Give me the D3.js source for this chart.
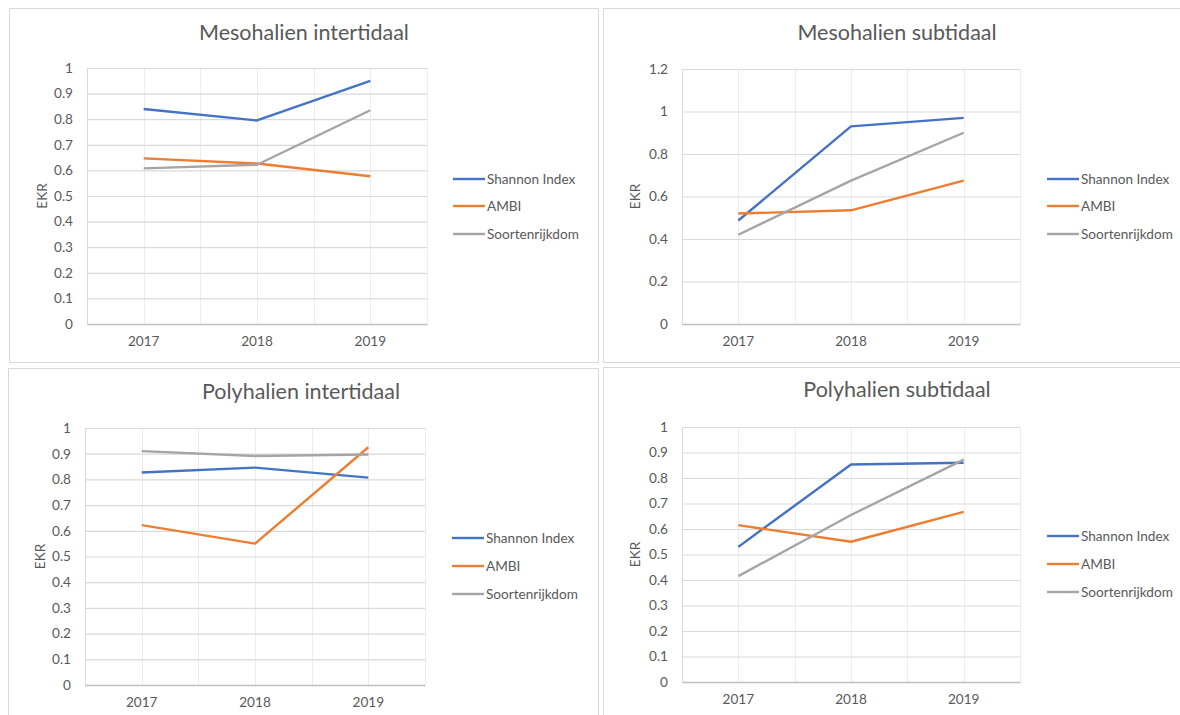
<!DOCTYPE html>
<html>
<head>
<meta charset="utf-8">
<script src="https://cdn.jsdelivr.net/npm/d3@7"></script>
<style>
  html, body { margin: 0; padding: 0; background: #fff; }
  svg { display: block; font-family: Lato, "Open Sans", sans-serif; }
</style>
</head>
<body>
<svg id="chart" width="1180" height="715"></svg>
<script>
// Years on the x axis and the three indicators plotted in each panel
const years = ["2017", "2018", "2019"];
const seriesNames = ["Shannon Index", "AMBI", "Soortenrijkdom"];
const seriesColors = ["#4472C4", "#ED7D31", "#A5A5A5"];

// EKR values per panel, one row per indicator (Shannon, AMBI, Soortenrijkdom)
const mesoIntertidaal = [
  [0.84, 0.795, 0.95],
  [0.647, 0.627, 0.577],
  [0.608, 0.622, 0.835]
];
const mesoSubtidaal = [
  [0.487, 0.93, 0.97],
  [0.52, 0.535, 0.675],
  [0.42, 0.675, 0.90]
];
const polyIntertidaal = [
  [0.827, 0.846, 0.807],
  [0.622, 0.55, 0.925],
  [0.91, 0.891, 0.897]
];
const polySubtidaal = [
  [0.53, 0.853, 0.86],
  [0.615, 0.55, 0.667],
  [0.415, 0.655, 0.872]
];

// Y-axis ticks per panel
const ticksTenths = [0, 0.1, 0.2, 0.3, 0.4, 0.5, 0.6, 0.7, 0.8, 0.9, 1];
const ticksFifths = [0, 0.2, 0.4, 0.6, 0.8, 1, 1.2];

const titles = ["Mesohalien intertidaal", "Mesohalien subtidaal", "Polyhalien intertidaal", "Polyhalien subtidaal"];
const yLabel = "EKR";

const panels = [
  { title: titles[0], values: mesoIntertidaal, ticks: ticksTenths, yMax: 1,
    box: [9, 8, 598, 362], plot: [87, 68, 427, 324], titleX: 304, titleY: 40,
    legendX: 453, legendY: [179, 206, 234], ekrX: 42 },
  { title: titles[1], values: mesoSubtidaal, ticks: ticksFifths, yMax: 1.2,
    box: [603, 8, 1186, 362], plot: [682, 69, 1020, 324], titleX: 897, titleY: 40,
    legendX: 1047, legendY: [179, 206, 234], ekrX: 635 },
  { title: titles[2], values: polyIntertidaal, ticks: ticksTenths, yMax: 1,
    box: [8, 368, 598, 720], plot: [85, 428, 425, 685], titleX: 301, titleY: 399,
    legendX: 452, legendY: [538, 566, 594], ekrX: 40 },
  { title: titles[3], values: polySubtidaal, ticks: ticksTenths, yMax: 1,
    box: [603, 367, 1186, 720], plot: [682, 427, 1020, 682], titleX: 897, titleY: 397,
    legendX: 1047, legendY: [536, 564, 592], ekrX: 635 }
];

const svg = d3.select("#chart");
const textColor = "#595959";
const labelSize = 13.6;

panels.forEach(p => {
  const g = svg.append("g");
  const [bx0, by0, bx1, by1] = p.box;
  const [px0, py0, px1, py1] = p.plot;

  // chart frame
  g.append("rect")
    .attr("x", bx0 + 0.5).attr("y", by0 + 0.5)
    .attr("width", bx1 - bx0).attr("height", by1 - by0)
    .attr("fill", "#fff").attr("stroke", "#d9d9d9").attr("stroke-width", 1);

  const x = d3.scaleBand().domain(years).range([px0, px1]).padding(0);
  const y = d3.scaleLinear().domain([0, p.yMax]).range([py1, py0]);

  // vertical gridlines at category centres and band edges
  const vLines = [];
  years.forEach(yr => {
    vLines.push(x(yr));
    vLines.push(x(yr) + x.bandwidth() / 2);
  });
  vLines.push(px1);
  g.append("g").selectAll("line").data(vLines).join("line")
    .attr("x1", d => Math.round(d) + 0.5).attr("x2", d => Math.round(d) + 0.5)
    .attr("y1", py0).attr("y2", py1)
    .attr("stroke", "#ececec").attr("stroke-width", 1);

  // horizontal gridlines + y tick labels
  const yAxis = d3.axisLeft(y).tickValues(p.ticks)
    .tickSize(-(px1 - px0)).tickPadding(14)
    .tickFormat(d => String(+d.toFixed(1)));
  const ya = g.append("g").attr("transform", `translate(${px0},0)`).call(yAxis);
  ya.select(".domain").remove();
  ya.selectAll(".tick line").attr("stroke", "#d9d9d9").attr("stroke-width", 1.2);
  ya.selectAll(".tick text").attr("fill", textColor).attr("font-size", labelSize)
    .attr("font-family", "Lato, 'Open Sans', sans-serif");

  // bottom axis line and year labels
  const xAxis = d3.axisBottom(x).tickSize(0).tickPadding(12);
  const xa = g.append("g").attr("transform", `translate(0,${py1})`).call(xAxis);
  xa.select(".domain").attr("stroke", "#bfbfbf").attr("stroke-width", 1.3);
  xa.selectAll(".tick text").attr("fill", textColor).attr("font-size", labelSize)
    .attr("font-family", "Lato, 'Open Sans', sans-serif");

  // left plot edge
  g.append("line")
    .attr("x1", px0 + 0.5).attr("x2", px0 + 0.5).attr("y1", py0).attr("y2", py1)
    .attr("stroke", "#d9d9d9");

  // series lines
  const line = d3.line()
    .x((d, i) => x(years[i]) + x.bandwidth() / 2)
    .y(d => y(d));
  p.values.forEach((vals, si) => {
    g.append("path").datum(vals)
      .attr("d", line)
      .attr("fill", "none")
      .attr("stroke", seriesColors[si])
      .attr("stroke-width", 2.4)
      .attr("stroke-linejoin", "round");
  });

  // title
  g.append("text")
    .attr("x", p.titleX).attr("y", p.titleY)
    .attr("text-anchor", "middle")
    .attr("fill", textColor).attr("font-size", 21.5)
    .text(p.title);

  // y-axis label
  g.append("text")
    .attr("transform", `translate(${p.ekrX},${(py0 + py1) / 2}) rotate(-90)`)
    .attr("text-anchor", "middle")
    .attr("dy", "0.35em")
    .attr("fill", textColor).attr("font-size", labelSize)
    .text(yLabel);

  // legend
  seriesNames.forEach((name, si) => {
    const ly = p.legendY[si];
    g.append("line")
      .attr("x1", p.legendX).attr("x2", p.legendX + 32)
      .attr("y1", ly).attr("y2", ly)
      .attr("stroke", seriesColors[si]).attr("stroke-width", 2.4);
    g.append("text")
      .attr("x", p.legendX + 34).attr("y", ly)
      .attr("dy", "0.35em")
      .attr("fill", textColor).attr("font-size", labelSize)
      .text(name);
  });
});
</script>
</body>
</html>
